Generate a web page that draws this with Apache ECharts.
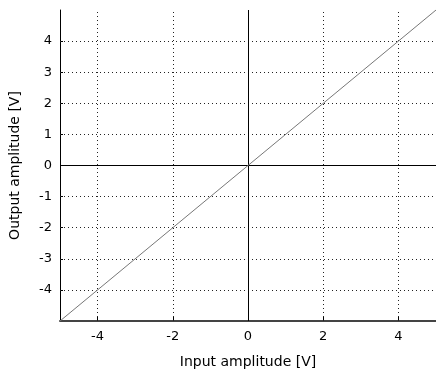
<!DOCTYPE html>
<html><head><meta charset="utf-8">
<script src="https://cdn.jsdelivr.net/npm/echarts@6/dist/echarts.min.js"></script>
<style>html,body{margin:0;padding:0;background:#fff}#c{width:436px;height:374px}</style>
</head><body><div id="c"></div>
<script>
const lineX = [-5, 5];
const lineY = [-5, 5];
const xTicks = [-4, -2, 0, 2, 4];
const yTicks = [-4, -3, -2, -1, 0, 1, 2, 3, 4];
const xGrid = [-4, -2, 2, 4];
const yGrid = [-4, -3, -2, -1, 1, 2, 3, 4];
const xLabel = 'Input amplitude [V]';
const yLabel = 'Output amplitude [V]';

const font = 'DejaVu Sans';
const chart = echarts.init(document.getElementById('c'), null, {renderer: 'canvas'});
const dotted = {color: '#222', width: 1, type: [1, 3]};
const solid = {color: '#000', width: 1, type: 'solid'};
const gridMarks = [];
xGrid.forEach(v => gridMarks.push({xAxis: v, lineStyle: dotted}));
yGrid.forEach(v => gridMarks.push({yAxis: v, lineStyle: dotted}));
gridMarks.push({xAxis: 0, lineStyle: solid});
gridMarks.push({yAxis: 0, lineStyle: solid});

chart.setOption({
  animation: false,
  grid: {left: 57, top: 10, width: 381, height: 314, containLabel: false},
  xAxis: {
    type: 'value', min: -5, max: 5,
    axisLine: {onZero: false, lineStyle: {color: '#444', width: 2}},
    axisTick: {show: true, inside: true, length: 4, customValues: xTicks, lineStyle: {color: '#000'}},
    axisLabel: {customValues: xTicks, color: '#000', fontFamily: font, fontSize: 13, margin: 9},
    splitLine: {show: false},
    name: xLabel, nameLocation: 'middle', nameGap: 34,
    nameTextStyle: {color: '#000', fontFamily: font, fontSize: 14}
  },
  yAxis: {
    type: 'value', min: -5, max: 5,
    axisLine: {onZero: false, lineStyle: {color: '#000', width: 1}},
    axisTick: {show: true, inside: true, length: 3, customValues: yTicks, lineStyle: {color: '#000'}},
    axisLabel: {customValues: yTicks, color: '#000', fontFamily: font, fontSize: 13, margin: 8},
    splitLine: {show: false},
    name: yLabel, nameLocation: 'middle', nameGap: 38, nameRotate: 90,
    nameTextStyle: {color: '#000', fontFamily: font, fontSize: 14}
  },
  series: [
    {
      type: 'line', data: [], silent: true, z: 1,
      markLine: {silent: true, symbol: 'none', label: {show: false}, animation: false, data: gridMarks}
    },
    {
      type: 'line', z: 5, symbol: 'none', silent: true,
      data: lineX.map((x, i) => [x, lineY[i]]),
      lineStyle: {color: '#777', width: 1}
    }
  ]
});
</script></body></html>
